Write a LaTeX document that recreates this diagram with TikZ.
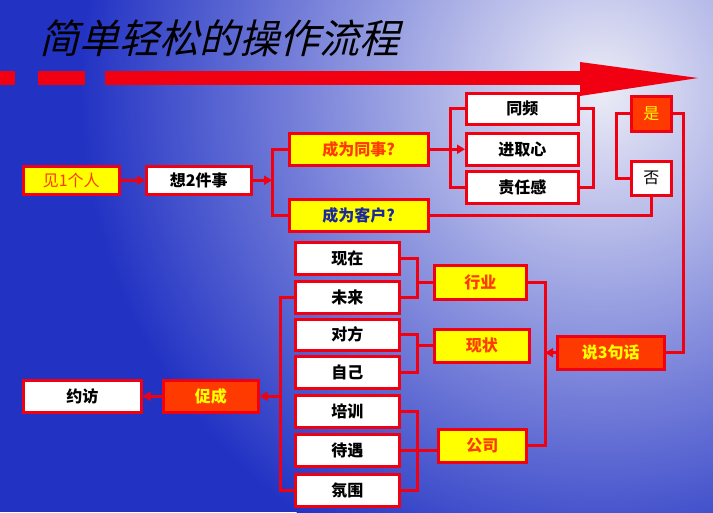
\documentclass[tikz,border=0pt]{standalone}
\usepackage{fontspec}
\setmainfont{Liberation Serif}
\newfontfamily\cjk{Noto Sans CJK SC}
\usetikzlibrary{arrows.meta}
\definecolor{bgblue}{HTML}{2233C4}
\definecolor{bglight}{HTML}{ECECF6}
\definecolor{rd}{HTML}{F00010}
\definecolor{orr}{HTML}{FF3A00}
\definecolor{yl}{HTML}{FFFF00}
\tikzset{
  bx/.style={draw=rd, line width=2.5pt, minimum height=28pt, inner sep=0pt, font=\cjk\bfseries\fontsize{16}{16}\selectfont, anchor=north west},
  wbox/.style={bx, fill=white, text=black},
  ybox/.style={bx, fill=yl, text=orr},
  rbox/.style={bx, fill=orr, text=yl},
  ln/.style={draw=rd, line width=3pt},
  ar/.style={ln, -{Triangle[length=8pt,width=9pt]}}
}
\begin{document}
\begin{tikzpicture}[x=1pt,y=-1pt]
\useasboundingbox (0,0) rectangle (713,512);
\fill[bgblue] (0,0) rectangle (713,512);
\begin{scope}
\clip (0,0) rectangle (713,512);
\shade[inner color=bglight, outer color=bgblue] (600,90) circle (520);
\end{scope}
% title
\node[anchor=west, xslant=0.25, font=\cjk\fontsize{40}{40}\selectfont] (title) at (40,38) {简单轻松的操作流程};
% arrow bar
\fill[rd] (0,71) rectangle (15,85);
\fill[rd] (38,71) rectangle (85,85);
\fill[rd] (105,71) rectangle (585,85);
\fill[rd] (580,62) -- (698,78) -- (580,96) -- cycle;
% nodes
\node[ybox, minimum width=96pt] (a) at (22,165) {\mdseries 见1个人};
\node[wbox, minimum width=105pt] (b) at (145,165) {想2件事};
\node[ybox, minimum width=139pt, minimum height=32pt] (c) at (288,132) {成为同事?};
\node[ybox, minimum width=139pt, minimum height=32pt, text=bgblue!80!black] (d) at (288,198) {成为客户?};
\node[wbox, minimum width=112pt, minimum height=31pt] (e1) at (465,92) {同频};
\node[wbox, minimum width=112pt, minimum height=32pt] (e2) at (465,132) {进取心};
\node[wbox, minimum width=112pt, minimum height=32pt] (e3) at (465,170) {责任感};
\node[rbox, minimum width=40pt, minimum height=35pt] (yes) at (630,95) {\mdseries 是};
\node[wbox, minimum width=40pt, minimum height=34pt] (no) at (630,160) {\mdseries 否};
\node[wbox, minimum width=104pt, minimum height=32pt] (f1) at (294,241) {现在};
\node[wbox, minimum width=104pt, minimum height=32pt] (f2) at (294,280) {未来};
\node[wbox, minimum width=104pt, minimum height=31pt] (f3) at (294,318) {对方};
\node[wbox, minimum width=104pt, minimum height=32pt] (f4) at (294,355) {自己};
\node[wbox, minimum width=104pt, minimum height=32pt] (f5) at (294,394) {培训};
\node[wbox, minimum width=104pt, minimum height=32pt] (f6) at (294,433) {待遇};
\node[wbox, minimum width=104pt, minimum height=32pt] (f7) at (294,473) {氛围};
\node[ybox, minimum width=92pt, minimum height=34pt] (g1) at (433,264) {行业};
\node[ybox, minimum width=95pt, minimum height=33pt] (g2) at (433,328) {现状};
\node[ybox, minimum width=88pt, minimum height=33pt] (g3) at (437,428) {公司};
\node[rbox, minimum width=107pt, minimum height=33pt] (h) at (556,335) {说3句话};
\node[rbox, minimum width=95pt, minimum height=32pt] (p) at (162,379) {促成};
\node[wbox, minimum width=118pt, minimum height=32pt] (q) at (22,379) {约访};
% bracket columns
\coordinate (xb) at (272,0);
\coordinate (xe) at (450,0);
\coordinate (xf) at (593,0);
\coordinate (xy) at (616,0);
\coordinate (xr) at (683,0);
\coordinate (xs) at (545,0);
\coordinate (xg) at (417,0);
\coordinate (xp) at (280,0);
% connectors
\draw[ar] (a.east) -- (b.west);
\draw[ar] (b.east) -- (xb |- b.east);
\draw[ln] (c.west) -| (xb |- d.west) -- (d.west);
\draw[ar] (c.east) -- (e2.west);
\draw[ln] (e1.west) -| (xe |- e3.west) -- (e3.west);
\draw[ln] (e1.east) -| (xf |- e3.east) -- (e3.east);
\draw[ln] (yes.west) -| (xy |- no.west) -- (no.west);
\draw[ln] (no.south) |- (d.east);
\draw[ln] (yes.east) -| (xr |- h.east) -- (h.east);
\draw[ar] (h.west) -- (xs |- h.west);
\draw[ln] (g1.east) -| (xs |- g3.east) -- (g3.east);
\draw[ln] (f1.east) -| (xg |- f2.east) -- (f2.east);
\draw[ln] (xg |- g1.west) -- (g1.west);
\draw[ln] (f3.east) -| (xg |- f4.east) -- (f4.east);
\draw[ln] (xg |- g2.west) -- (g2.west);
\draw[ln] (f5.east) -| (xg |- f7.east) -- (f7.east);
\draw[ln] (f6.east) -- (f6.east -| g3.west);
\draw[ln] (f2.west) -| (xp |- f7.west) -- (f7.west);
\draw[ar] (xp |- p.east) -- (p.east);
\draw[ar] (p.west) -- (q.east);
\end{tikzpicture}
\end{document}
